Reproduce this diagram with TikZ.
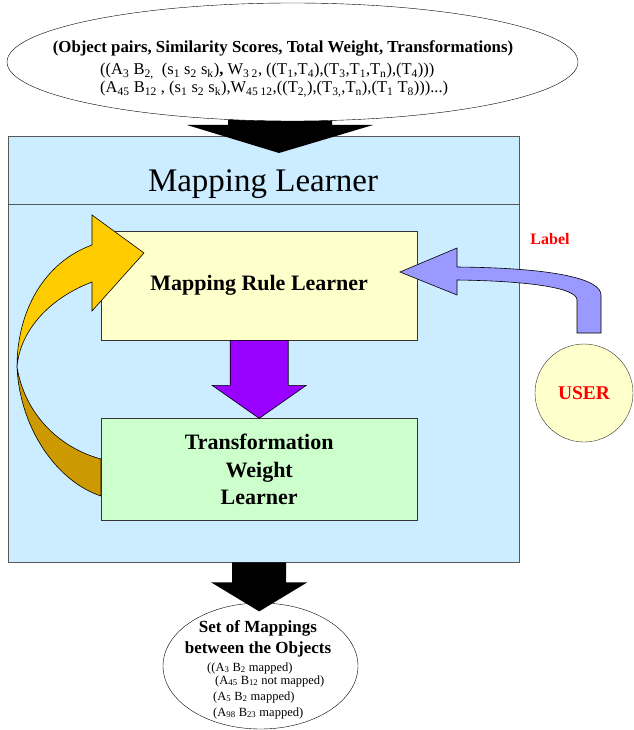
\documentclass[tikz,border=0pt]{standalone}
\usepackage{fontspec}
\setmainfont{Liberation Serif}
\usetikzlibrary{calc,positioning,shapes.geometric}
\pgfdeclarelayer{front}
\pgfsetlayers{main,front}
\definecolor{learnerblue}{HTML}{CCECFF}
\definecolor{ruleyellow}{HTML}{FFFFCC}
\definecolor{weightgreen}{HTML}{CCFFCC}
\definecolor{arrowpurple}{HTML}{9900FF}
\definecolor{loopgold}{HTML}{FFCC00}
\definecolor{loopdark}{HTML}{CC9900}
\definecolor{userblue}{HTML}{9999FF}
\newcommand\sbs[1]{\textsubscript{#1}}

\begin{document}
\begin{tikzpicture}[x=1pt,y=-1pt,line join=miter]
  \tikzstyle{box}=[draw=black!80,rectangle,inner sep=0pt,minimum width=316pt,
                   align=center,font=\fontsize{22}{27.5}\selectfont\bfseries]
  \tikzstyle{fat}=[draw=black,line width=0.6pt]
  \tikzstyle{small}=[inner sep=0pt,anchor=base west,font=\fontsize{12.5}{13}\selectfont]
  \useasboundingbox (0,0) rectangle (633,730);

  \node[draw=black!65,fill=learnerblue,inner sep=0pt,minimum width=511pt,
        minimum height=426pt,anchor=north west] (learner) at (8,136) {};
  \draw[black!65] (learner.west |- 0,204) -- (learner.east |- 0,204);
  \node[inner sep=0pt,anchor=base,font=\fontsize{33}{33}\selectfont] (title) at (263,191) {Mapping Learner};

  \node[box,fill=ruleyellow,minimum height=109pt,anchor=north west] (rule) at (101,231) {Mapping Rule Learner};
  \node[box,fill=weightgreen,minimum height=102pt] (weight) [below=78pt of rule] {Transformation\\Weight\\Learner};

  % rule learner -> weight learner
  \filldraw[fat,fill=arrowpurple] (rule.south) ++(-29,0) -- ++(0,45) -- ++(-18,0)
      -- (weight.north) -- ++(47,-33) -- ++(-18,0) -- ++(0,-45) -- cycle;

  % feedback loop, back side first
  \filldraw[fat,fill=loopdark] (17,367) .. controls (20,430) and (58,482) .. (weight.west |- 0,496)
      -- (weight.west |- 0,459) .. controls (60,448) and (25,415) .. (17,367) -- cycle;
  \filldraw[fat,fill=loopgold] (92,215) -- (144,253) -- (92,311) -- (92,282)
      .. controls (50,298) and (20,330) .. (17,367)
      .. controls (17,310) and (45,262) .. (92,245) -- cycle;

  \node[circle,draw=black!80,fill=ruleyellow,minimum size=98pt,text=red,
        font=\fontsize{19.5}{20}\selectfont\bfseries] (user) at (584,393) {USER};
  \node[text=red,inner sep=0pt,font=\fontsize{16}{16}\selectfont\bfseries] (label) at (550,239) {Label};

  % user -> rule learner
  \filldraw[fat,fill=userblue] (577,333) -- (577,300) .. controls (577,288) and (530,281) .. (457,280)
      -- (457,295) -- (400,272) -- (457,248) -- (457,267)
      .. controls (560,268) and (601,280) .. (601,295) -- (601,333) -- cycle;

  % input -> learner
  \fill (228,100) -- (228,125) -- (187,125) -- (279,153) -- (373,125) -- (332,125) -- (332,100) -- cycle;

  \begin{pgfonlayer}{front}
  \node[ellipse,draw,fill=white,minimum width=571pt,minimum height=118pt] (input) at (292.5,62) {};
  \node[inner sep=0pt,anchor=base,font=\fontsize{16.8}{17}\selectfont\bfseries] (head) at (283,53)
      {(Object pairs, Similarity Scores, Total Weight, Transformations)};
  \node[inner sep=0pt,anchor=base west,font=\fontsize{16.5}{17}\selectfont] (pairA) at (100,75)
      {((A\sbs{3} B\sbs{2,}\ \ (s\sbs{1} s\sbs{2} s\sbs{k})\textbf{,} W\sbs{3 2}, ((T\sbs{1},T\sbs{4}),(T\sbs{3},T\sbs{1},T\sbs{n}),(T\sbs{4})))};
  \node[inner sep=0pt,anchor=base west,font=\fontsize{16.5}{17}\selectfont] (pairB) at (100,93)
      {(A\sbs{45} B\sbs{12} , (s\sbs{1} s\sbs{2} s\sbs{k}),W\sbs{45 12},((T\sbs{2,}),(T\sbs{3,},T\sbs{n}),(T\sbs{1} T\sbs{8})))...)};
  \end{pgfonlayer}

  % output ellipse, then the arrow over it
  \node[ellipse,draw,fill=white,minimum width=195pt,minimum height=126pt] (output) at (260.5,666) {};
  \node[inner sep=0pt,anchor=base,font=\fontsize{17}{17}\selectfont\bfseries] (outA) at (258,632) {Set of Mappings};
  \node[inner sep=0pt,anchor=base,font=\fontsize{17}{17}\selectfont\bfseries] (outB) at (258,653) {between the Objects};
  \node[small] (m1) at (207,671) {((A\sbs{3} B\sbs{2} mapped)};
  \node[small] (m2) at (215,684) {(A\sbs{45} B\sbs{12} not mapped)};
  \node[small] (m3) at (213,700) {(A\sbs{5} B\sbs{2} mapped)};
  \node[small] (m4) at (213,716) {(A\sbs{98} B\sbs{23} mapped)};

  % learner -> output
  \fill (rule.south |- learner.south) ++(-27,0) -- ++(0,20) -- ++(-21,0) -- ++(48,29)
      -- ++(48,-29) -- ++(-21,0) -- ++(0,-20) -- cycle;
\end{tikzpicture}
\end{document}
